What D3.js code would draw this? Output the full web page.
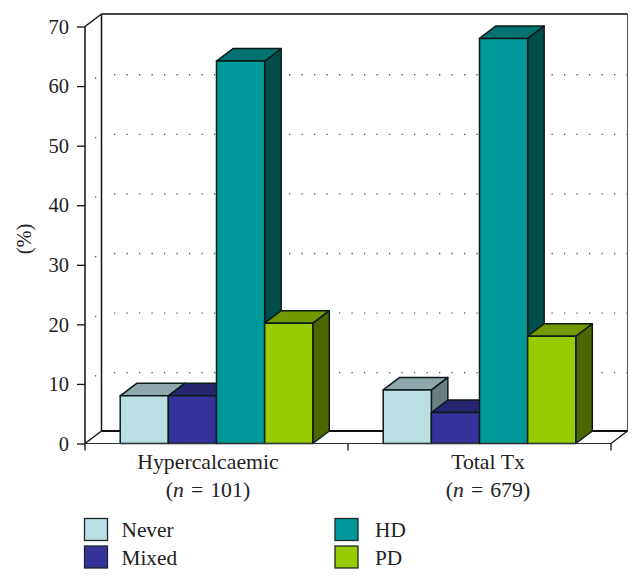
<!DOCTYPE html>
<html><head><meta charset="utf-8">
<script src="https://cdnjs.cloudflare.com/ajax/libs/d3/7.8.5/d3.min.js"></script>
<style>html,body{margin:0;padding:0;background:#fff}svg{display:block}text{font-family:"Liberation Serif",serif;fill:#222}</style>
</head><body><svg id="c" width="642" height="583"></svg>
<script>
const categories = ["Hypercalcaemic", "Total Tx"];
const sampleSizes = ["101", "679"];
const seriesNames = ["Never", "Mixed", "HD", "PD"];
const never = [8.0, 9.0];
const mixed = [8.0, 5.2];
const hd = [64.2, 68.0];
const pd = [20.2, 18.0];
const seriesValues = [never, mixed, hd, pd];
const yTicks = [0, 10, 20, 30, 40, 50, 60, 70];
const frontColors = ["#b9dfe3", "#35329a", "#009999", "#99cc00"];
const topColors = ["#8fa8ac", "#27256f", "#007370", "#739900"];
const sideColors = ["#6b7e80", "#1f1d59", "#004d4d", "#4d6600"];

const svg = d3.select("#c");
const DX = 16.5, DY = -12.5;
const y = d3.scaleLinear().domain([0, 70]).range([443.5, 26.5]);
const x0 = d3.scaleBand().domain(categories).range([85, 611]);
const x1 = d3.scaleBand().domain(seriesNames).range([-96.3, 96.3]);
const line = d3.line();

// gridlines
const gridG = svg.append("g");
yTicks.filter(t => t > 0 && t < 70).forEach(t => {
  const yy = y(t);
  gridG.append("path").attr("d", line([[85, yy], [85 + DX, yy + DY]]))
    .attr("fill", "none").attr("stroke", "#555").attr("stroke-width", 1.3)
    .attr("stroke-dasharray", "1.3 25").attr("stroke-dashoffset", -12.7);
  gridG.append("path").attr("d", line([[114, yy - 11.3], [85 + DX + 526.2, yy - 11.3]]))
    .attr("fill", "none").attr("stroke", "#555").attr("stroke-width", 1.3)
    .attr("stroke-dasharray", "1.3 11.2");
});

// walls
const wall = svg.append("g").attr("fill", "none");
wall.append("path").attr("d", line([[85 + DX, y(0) + DY], [85 + DX, y(70) + DY]])).attr("stroke", "#111").attr("stroke-width", 1.5);
wall.append("path").attr("d", line([[85 + DX, y(70) + DY], [611 + DX, y(70) + DY]])).attr("stroke", "#444").attr("stroke-width", 2);
wall.append("path").attr("d", line([[611 + DX, y(70) + DY], [611 + DX, y(0) + DY]])).attr("stroke", "#555").attr("stroke-width", 1);
wall.append("path").attr("d", line([[85 + DX, y(0) + DY], [611 + DX, y(0) + DY]])).attr("stroke", "#111").attr("stroke-width", 1.8);
wall.append("path").attr("d", line([[85, y(0)], [85 + DX, y(0) + DY]])).attr("stroke", "#111").attr("stroke-width", 1.5);
wall.append("path").attr("d", line([[611, y(0)], [611 + DX, y(0) + DY]])).attr("stroke", "#111").attr("stroke-width", 1.2);
wall.append("path").attr("d", line([[85, y(70)], [85 + DX, y(70) + DY]])).attr("stroke", "#111").attr("stroke-width", 1.5);

// bars
categories.forEach((c, ci) => {
  const cx = x0(c) + x0.bandwidth() / 2;
  seriesNames.forEach((s, si) => {
    const v = seriesValues[si][ci];
    const l = cx + x1(s), r = l + x1.bandwidth(), t = y(v), b = y(0);
    const g = svg.append("g").attr("stroke", "#0b1a1a").attr("stroke-width", 1.5).attr("stroke-linejoin", "round");
    g.append("path").attr("fill", sideColors[si]).attr("d", line([[r, b], [r + DX, b + DY], [r + DX, t + DY], [r, t]]) + "Z");
    g.append("path").attr("fill", topColors[si]).attr("d", line([[l, t], [l + DX, t + DY], [r + DX, t + DY], [r, t]]) + "Z");
    g.append("path").attr("fill", frontColors[si]).attr("d", line([[l, t], [r, t], [r, b], [l, b]]) + "Z");
  });
});

// axes
const axisY = svg.append("g").attr("transform", "translate(85,0)")
  .call(d3.axisLeft(y).tickValues(yTicks).tickSize(8).tickPadding(8));
axisY.select(".domain").attr("stroke", "#111").attr("stroke-width", 1.5).attr("d", "M0," + y(70) + "V" + y(0));
axisY.selectAll(".tick line").attr("stroke", "#111").attr("stroke-width", 1.3);
axisY.selectAll(".tick text").attr("font-family", '"Liberation Serif",serif').attr("font-size", 20.5).attr("fill", "#222").attr("dy", "0.33em");

const xBase = svg.append("g");
xBase.append("path").attr("d", line([[85, y(0)], [611, y(0)]])).attr("stroke", "#333").attr("stroke-width", 1.2).attr("fill", "none");
x0.domain().concat(["end"]).forEach((c, i) => {
  const xx = 85 + i * x0.bandwidth();
  xBase.append("path").attr("d", line([[xx, y(0)], [xx, y(0) + 7]])).attr("stroke", "#111").attr("stroke-width", 1.3);
});

const labelShift = [-8.5, 8.5];
categories.forEach((c, i) => {
  const cx = x0(c) + x0.bandwidth() / 2 + labelShift[i];
  svg.append("text").attr("x", cx).attr("y", 469).attr("text-anchor", "middle").attr("font-size", 21.8).text(c);
  const t = svg.append("text").attr("x", cx).attr("y", 497).attr("text-anchor", "middle").attr("font-size", 21.8).attr("word-spacing", 1.5);
  t.append("tspan").text("(");
  t.append("tspan").attr("font-style", "italic").text("n");
  t.append("tspan").text(" = " + sampleSizes[i] + ")");
});

svg.append("text").attr("transform", "translate(31,239) rotate(-90)").attr("text-anchor", "middle").attr("font-size", 20.5).text("(%)");

// legend
const legendX = [84.5, 84.5, 335, 335], legendY = [518.5, 546, 518.5, 546], textX = [121.5, 121.5, 375, 375], textY = [537, 565, 537, 565];
seriesNames.forEach((s, i) => {
  svg.append("rect").attr("x", legendX[i]).attr("y", legendY[i]).attr("width", 23).attr("height", 22)
    .attr("fill", frontColors[i]).attr("stroke", "#1a2a2a").attr("stroke-width", 1.3);
  svg.append("text").attr("x", textX[i]).attr("y", textY[i]).attr("font-size", 21.3).text(s);
});
</script></body></html>
